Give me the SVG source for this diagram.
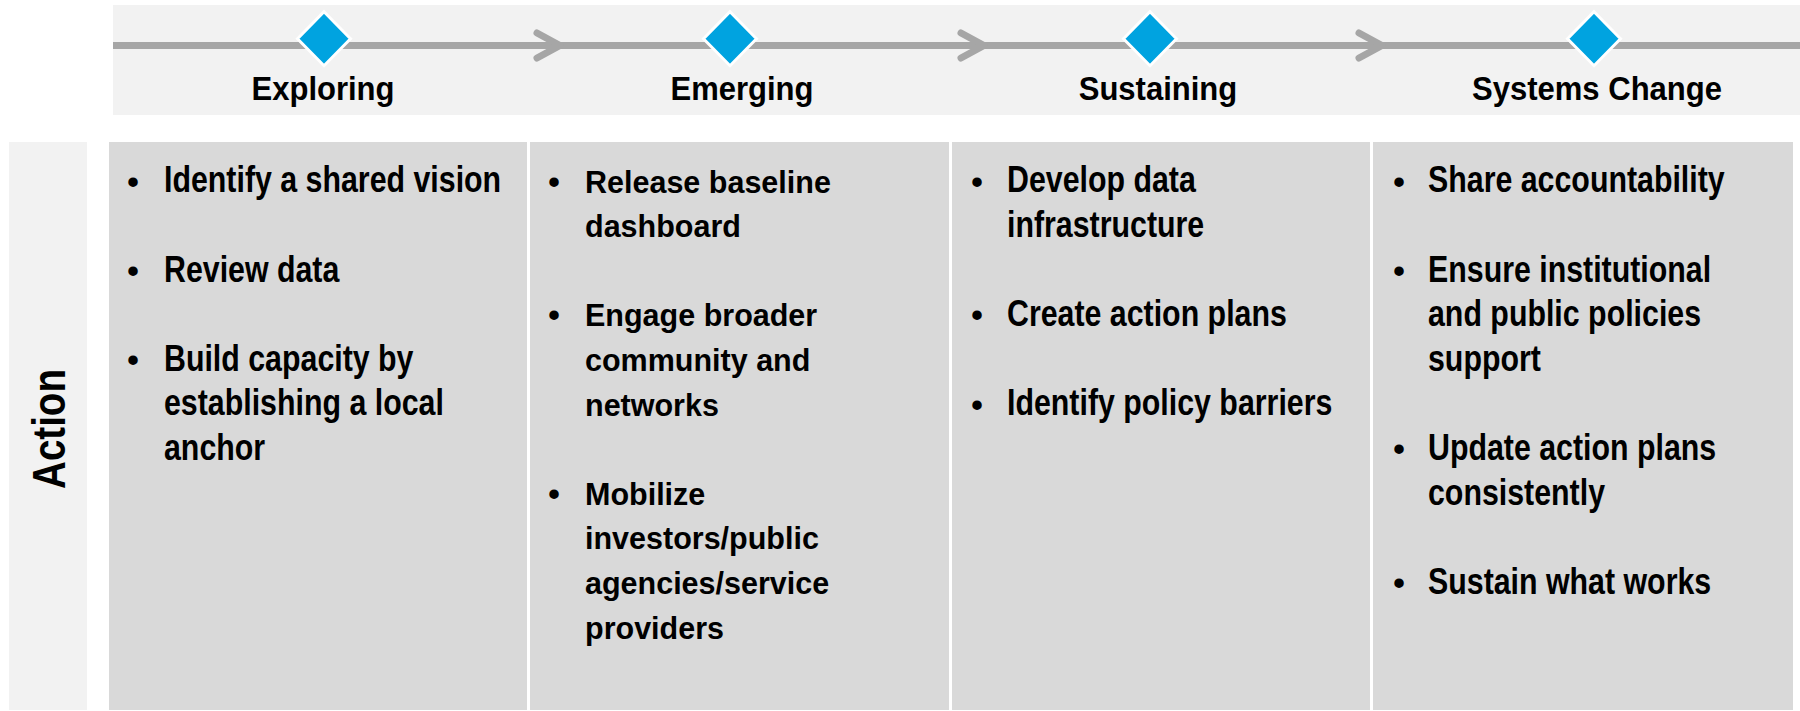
<svg xmlns="http://www.w3.org/2000/svg" width="1800" height="711" viewBox="0 0 1800 711">
<defs>
<style>
.bg{fill:#FFFFFF}
.band{fill:#F2F2F2}
.box{fill:#D9D9D9}
.line{stroke:#A6A6A6;stroke-width:7;fill:none}
.chev{stroke:#A6A6A6;stroke-width:7;fill:none;stroke-linecap:round;stroke-linejoin:round}
.dia{fill:#00A3E0;stroke:#FFFFFF;stroke-width:3}
.hdr{font-family:"Liberation Sans",Arial,sans-serif;font-weight:bold;font-size:33px;fill:#000000;text-anchor:middle}
.n{font-family:"Liberation Sans",Arial,sans-serif;font-weight:bold;font-size:37px;fill:#000000}
.r{font-family:"Liberation Sans",Arial,sans-serif;font-weight:bold;font-size:30.5px;fill:#000000}
.bul{font-family:"Liberation Sans",Arial,sans-serif;font-weight:bold;font-size:33px;fill:#000000;text-anchor:middle}
.act{font-family:"Liberation Sans",Arial,sans-serif;font-weight:bold;font-size:47px;fill:#000000;text-anchor:middle}
</style>
</defs>
<rect class="bg" x="0" y="0" width="1800" height="711"/>

<g id="timeline-band">
<rect class="band" x="113" y="5" width="1687" height="110"/>
</g>

<g id="connectors">
<line class="line" x1="113" y1="45.5" x2="1800" y2="45.5"/>
<polyline class="chev" points="537,33 560,45.5 537,58"/>
<polyline class="chev" points="961,33 984,45.5 961,58"/>
<polyline class="chev" points="1359,33 1382,45.5 1359,58"/>
</g>

<g id="stage-exploring">
<path class="dia" d="M324,11.7 L350.5,38.7 L324,65.7 L297.5,38.7 Z"/>
<text class="hdr" transform="matrix(0.94 0 0 1 323 99.5)">Exploring</text>
</g>
<g id="stage-emerging">
<path class="dia" d="M730,11.7 L756.5,38.7 L730,65.7 L703.5,38.7 Z"/>
<text class="hdr" transform="matrix(0.94 0 0 1 742 99.5)">Emerging</text>
</g>
<g id="stage-sustaining">
<path class="dia" d="M1150,11.7 L1176.5,38.7 L1150,65.7 L1123.5,38.7 Z"/>
<text class="hdr" transform="matrix(0.94 0 0 1 1158 99.5)">Sustaining</text>
</g>
<g id="stage-systems-change">
<path class="dia" d="M1594,11.7 L1620.5,38.7 L1594,65.7 L1567.5,38.7 Z"/>
<text class="hdr" transform="matrix(0.94 0 0 1 1597 99.5)">Systems Change</text>
</g>

<g id="row-action">
<rect class="band" x="9" y="142" width="78" height="568"/>
<text class="act" transform="translate(65,429) rotate(-90) scale(0.82,1)">Action</text>
</g>

<g id="col-exploring">
<rect class="box" x="109" y="142" width="418" height="568"/>
<text class="bul" x="133" y="192.5">•</text>
<text class="bul" x="133" y="281.7">•</text>
<text class="bul" x="133" y="370.9">•</text>
<g transform="matrix(0.82 0 0 1 164 0)">
<text class="n" x="0" y="192.5">Identify a shared vision</text>
<text class="n" x="0" y="281.7">Review data</text>
<text class="n" x="0" y="370.9">Build capacity by</text>
<text class="n" x="0" y="415.5">establishing a local</text>
<text class="n" x="0" y="460.1">anchor</text>
</g>
</g>

<g id="col-emerging">
<rect class="box" x="530" y="142" width="419" height="568"/>
<text class="bul" x="554" y="192.5">•</text>
<text class="bul" x="554" y="326.3">•</text>
<text class="bul" x="554" y="504.7">•</text>
<text class="r" x="585" y="192.5">Release baseline</text>
<text class="r" x="585" y="237.1">dashboard</text>
<text class="r" x="585" y="326.3">Engage broader</text>
<text class="r" x="585" y="370.9">community and</text>
<text class="r" x="585" y="415.5">networks</text>
<text class="r" x="585" y="504.7">Mobilize</text>
<text class="r" x="585" y="549.3">investors/public</text>
<text class="r" x="585" y="593.9">agencies/service</text>
<text class="r" x="585" y="638.5">providers</text>
</g>

<g id="col-sustaining">
<rect class="box" x="952" y="142" width="418" height="568"/>
<text class="bul" x="977" y="192.5">•</text>
<text class="bul" x="977" y="326.3">•</text>
<text class="bul" x="977" y="415.5">•</text>
<g transform="matrix(0.82 0 0 1 1007 0)">
<text class="n" x="0" y="192.5">Develop data</text>
<text class="n" x="0" y="237.1">infrastructure</text>
<text class="n" x="0" y="326.3">Create action plans</text>
<text class="n" x="0" y="415.5">Identify policy barriers</text>
</g>
</g>

<g id="col-systems-change">
<rect class="box" x="1373" y="142" width="420" height="568"/>
<text class="bul" x="1399" y="192.5">•</text>
<text class="bul" x="1399" y="281.7">•</text>
<text class="bul" x="1399" y="460.1">•</text>
<text class="bul" x="1399" y="593.9">•</text>
<g transform="matrix(0.82 0 0 1 1428 0)">
<text class="n" x="0" y="192.5">Share accountability</text>
<text class="n" x="0" y="281.7">Ensure institutional</text>
<text class="n" x="0" y="326.3">and public policies</text>
<text class="n" x="0" y="370.9">support</text>
<text class="n" x="0" y="460.1">Update action plans</text>
<text class="n" x="0" y="504.7">consistently</text>
<text class="n" x="0" y="593.9">Sustain what works</text>
</g>
</g>
</svg>
